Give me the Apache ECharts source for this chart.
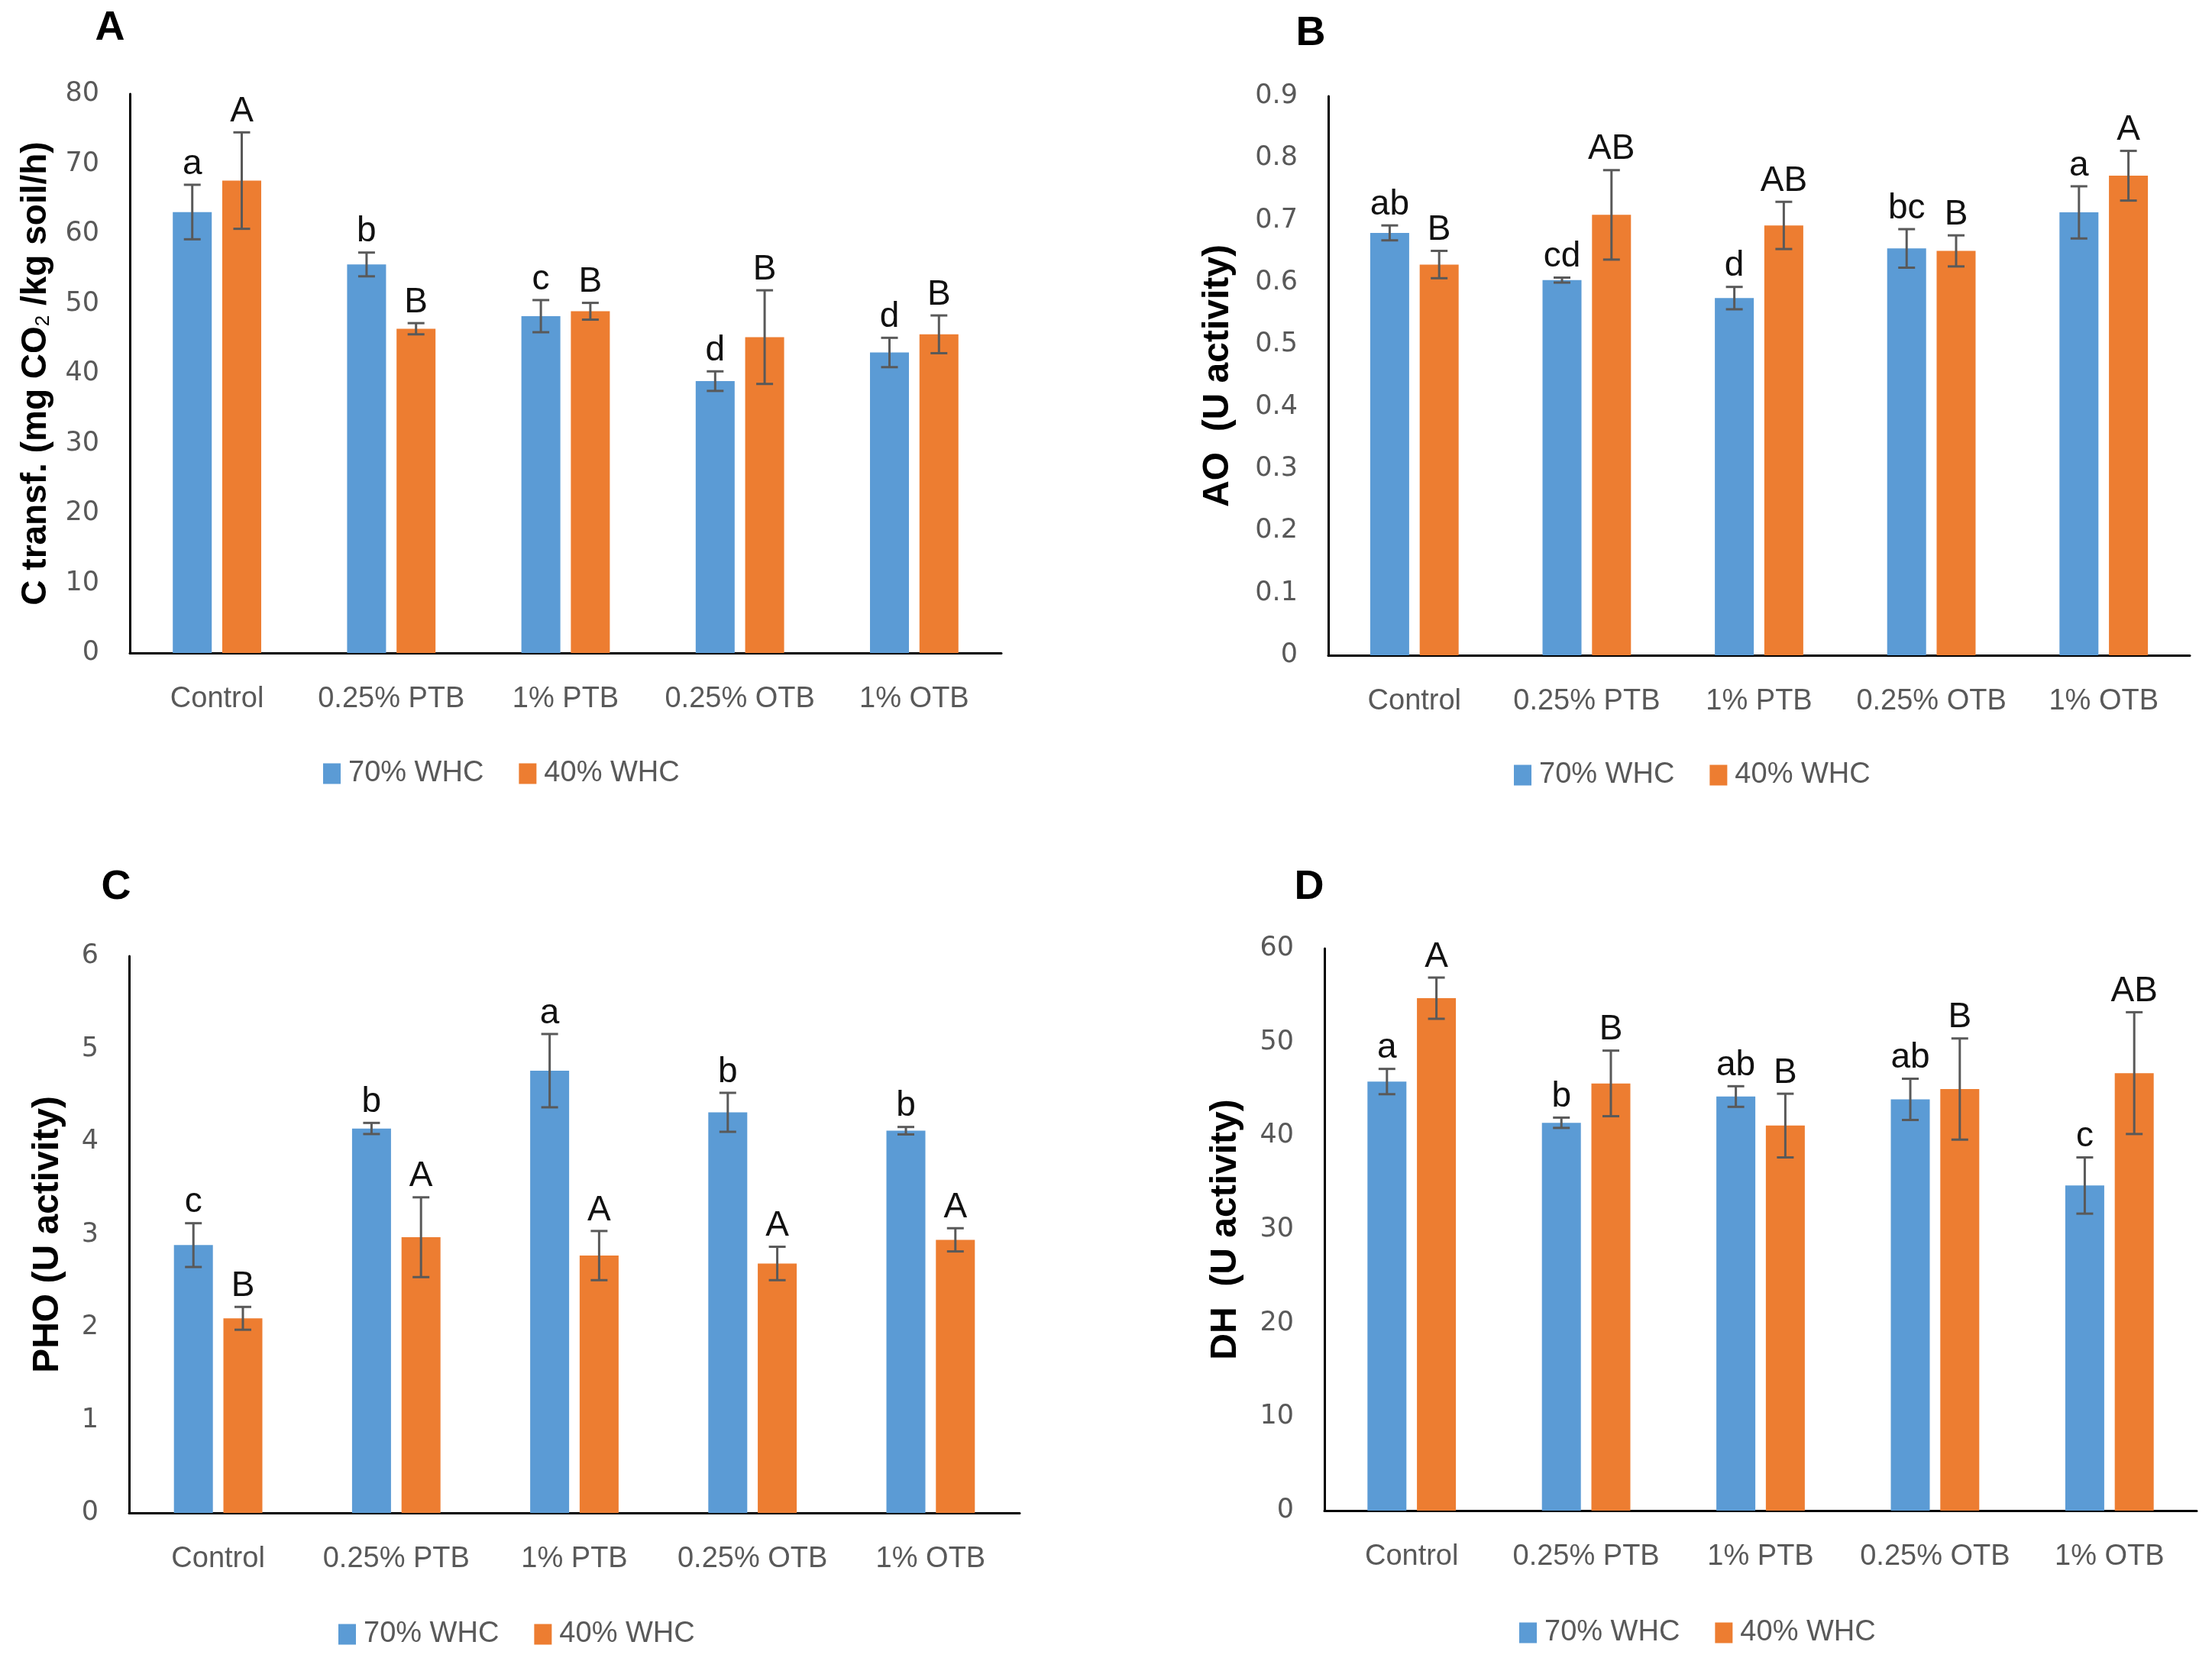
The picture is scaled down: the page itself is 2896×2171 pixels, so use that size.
<!DOCTYPE html>
<html>
<head>
<meta charset="utf-8">
<script src="https://cdn.jsdelivr.net/npm/echarts@6/dist/echarts.min.js"></script>
<style>
html,body{margin:0;padding:0;background:#fff;}
#chart{width:2896px;height:2171px;}
</style>
</head>
<body>
<div id="chart"></div>
<script>
// ---------------- DATA ----------------
const categories = ['Control', '0.25% PTB', '1% PTB', '0.25% OTB', '1% OTB'];
const seriesNames = ['70% WHC', '40% WHC'];

// Panel A: C transf.
const aBlue = [63.1, 55.6, 48.2, 38.9, 43.0];
const aBlueErr = [3.9, 1.7, 2.3, 1.4, 2.1];
const aOrange = [67.6, 46.4, 48.9, 45.2, 45.6];
const aOrangeErr = [6.9, 0.8, 1.2, 6.7, 2.7];
const aBlueLetters = ['a', 'b', 'c', 'd', 'd'];
const aOrangeLetters = ['A', 'B', 'B', 'B', 'B'];

// Panel B: AO
const bBlue = [0.680, 0.604, 0.575, 0.655, 0.713];
const bBlueErr = [0.012, 0.004, 0.018, 0.031, 0.042];
const bOrange = [0.629, 0.709, 0.692, 0.651, 0.772];
const bOrangeErr = [0.022, 0.072, 0.038, 0.025, 0.040];
const bBlueLetters = ['ab', 'cd', 'd', 'bc', 'a'];
const bOrangeLetters = ['B', 'AB', 'AB', 'B', 'A'];

// Panel C: PHO
const cBlue = [2.886, 4.143, 4.766, 4.317, 4.119];
const cBlueErr = [0.236, 0.06, 0.395, 0.21, 0.04];
const cOrange = [2.097, 2.971, 2.773, 2.688, 2.943];
const cOrangeErr = [0.123, 0.43, 0.265, 0.18, 0.125];
const cBlueLetters = ['c', 'b', 'a', 'b', 'b'];
const cOrangeLetters = ['B', 'A', 'A', 'A', 'A'];

// Panel D: DH
const dBlue = [45.8, 41.4, 44.2, 43.9, 34.7];
const dBlueErr = [1.35, 0.55, 1.1, 2.2, 3.0];
const dOrange = [54.7, 45.6, 41.1, 45.0, 46.7];
const dOrangeErr = [2.2, 3.5, 3.4, 5.4, 6.5];
const dBlueLetters = ['a', 'b', 'ab', 'ab', 'c'];
const dOrangeLetters = ['A', 'B', 'B', 'B', 'AB'];

// Axis ranges
const yRanges = [
  {min: 0, max: 80, interval: 10},
  {min: 0, max: 0.9, interval: 0.1},
  {min: 0, max: 6, interval: 1},
  {min: 0, max: 60, interval: 10}
];
const yNames = [
  'C transf. (mg CO{sub|2} /kg soil/h)',
  'AO  (U activity)',
  'PHO (U activity)',
  'DH  (U activity)'
];
const panelLetters = ['A', 'B', 'C', 'D'];

// ---------------- STYLE / LAYOUT ----------------
const BLUE = '#5B9BD5';
const ORANGE = '#ED7D31';
const ERR_COLOR = '#595959';
const BAR_W = 51;
const BAR_GAP = 0.27;
const OFFSET = (BAR_W + BAR_W * BAR_GAP) / 2;

const grids = [
  {left: 170, top: 123, width: 1141, height: 732},
  {left: 1739, top: 126, width: 1128, height: 732},
  {left: 169, top: 1252, width: 1166, height: 729},
  {left: 1734, top: 1242, width: 1142, height: 736}
];
const nameGaps = [100, 120, 82, 105];
const letterPos = [[144, 37], [1716, 44], [152, 1162], [1714, 1162]];
const legendPos = [[423, 994], [1982, 996], [443, 2121], [1989, 2119]];

const panels = [
  [aBlue, aBlueErr, aBlueLetters, aOrange, aOrangeErr, aOrangeLetters],
  [bBlue, bBlueErr, bBlueLetters, bOrange, bOrangeErr, bOrangeLetters],
  [cBlue, cBlueErr, cBlueLetters, cOrange, cOrangeErr, cOrangeLetters],
  [dBlue, dBlueErr, dBlueLetters, dOrange, dOrangeErr, dOrangeLetters]
];

function errSeries(p, vals, errs, letters, offset) {
  return {
    type: 'custom',
    name: 'err' + p + offset,
    xAxisIndex: p, yAxisIndex: p,
    z: 10,
    data: vals.map((v, i) => [i, v, errs[i]]),
    renderItem: function (params, api) {
      const i = api.value(0), v = api.value(1), e = api.value(2);
      const c = api.coord([i, v]);
      const t = api.coord([i, v + e]);
      const b = api.coord([i, v - e]);
      const x = c[0] + offset;
      const cap = 11;
      const ls = {stroke: ERR_COLOR, lineWidth: 3};
      return {
        type: 'group',
        children: [
          {type: 'line', shape: {x1: x, y1: t[1], x2: x, y2: b[1]}, style: ls},
          {type: 'line', shape: {x1: x - cap, y1: t[1], x2: x + cap, y2: t[1]}, style: ls},
          {type: 'line', shape: {x1: x - cap, y1: b[1], x2: x + cap, y2: b[1]}, style: ls},
          {type: 'text', x: x, y: t[1] - 4,
           style: {text: letters[params.dataIndex], fill: '#111',
                   font: '46px "Liberation Sans", Arial, sans-serif',
                   textAlign: 'center', textVerticalAlign: 'bottom'}}
        ]
      };
    }
  };
}

const xAxes = [], yAxes = [], series = [], legends = [], graphics = [];
for (let p = 0; p < 4; p++) {
  xAxes.push({
    type: 'category', gridIndex: p, data: categories,
    axisLine: {lineStyle: {color: '#000', width: 3}},
    axisTick: {show: false},
    axisLabel: {color: '#595959', fontSize: 38, margin: 42,
                fontFamily: '"Liberation Sans", Arial, sans-serif', interval: 0}
  });
  yAxes.push({
    type: 'value', gridIndex: p,
    min: yRanges[p].min, max: yRanges[p].max, interval: yRanges[p].interval,
    axisLine: {show: true, lineStyle: {color: '#000', width: 3}},
    axisTick: {show: false},
    splitLine: {show: false},
    axisLabel: {color: '#595959', fontSize: 35, margin: 40,
                fontFamily: '"DejaVu Sans", sans-serif',
                formatter: function (v) { return p === 1 ? (+v.toFixed(1)).toString() : String(v); }},
    name: yNames[p], nameLocation: 'middle', nameRotate: 90, nameGap: nameGaps[p],
    nameTextStyle: {color: '#000', fontWeight: 'bold', fontSize: p === 0 ? 46 : 48,
                    fontFamily: '"Liberation Sans", Arial, sans-serif',
                    rich: {sub: {fontSize: 26, fontWeight: 'normal', color: '#000',
                                 verticalAlign: 'bottom',
                                 fontFamily: '"Liberation Sans", Arial, sans-serif'}}}
  });
  const d = panels[p];
  series.push({
    type: 'bar', name: seriesNames[0], xAxisIndex: p, yAxisIndex: p,
    data: d[0], barWidth: BAR_W, barGap: (BAR_GAP * 100) + '%',
    itemStyle: {color: BLUE}
  });
  series.push({
    type: 'bar', name: seriesNames[1], xAxisIndex: p, yAxisIndex: p,
    data: d[3], barWidth: BAR_W, barGap: (BAR_GAP * 100) + '%',
    itemStyle: {color: ORANGE}
  });
  series.push(errSeries(p, d[0], d[1], d[2], -OFFSET));
  series.push(errSeries(p, d[3], d[4], d[5], OFFSET));
  legends.push({
    data: seriesNames, left: legendPos[p][0], top: legendPos[p][1],
    itemWidth: 23, itemHeight: 27, itemGap: 46, icon: 'rect', padding: 0,
    selectedMode: false,
    textStyle: {color: '#595959', fontSize: 38, padding: [0, 0, 0, 5],
                fontFamily: '"Liberation Sans", Arial, sans-serif'}
  });
  graphics.push({
    type: 'text', x: letterPos[p][0], y: letterPos[p][1],
    style: {text: panelLetters[p], fill: '#000',
            font: 'bold 54px "Liberation Sans", Arial, sans-serif',
            textAlign: 'center', textVerticalAlign: 'middle'}
  });
}

const chart = echarts.init(document.getElementById('chart'), null, {renderer: 'canvas'});
chart.setOption({
  backgroundColor: '#fff',
  animation: false,
  grid: grids,
  xAxis: xAxes,
  yAxis: yAxes,
  legend: legends,
  graphic: graphics,
  series: series
});
</script>
</body>
</html>
